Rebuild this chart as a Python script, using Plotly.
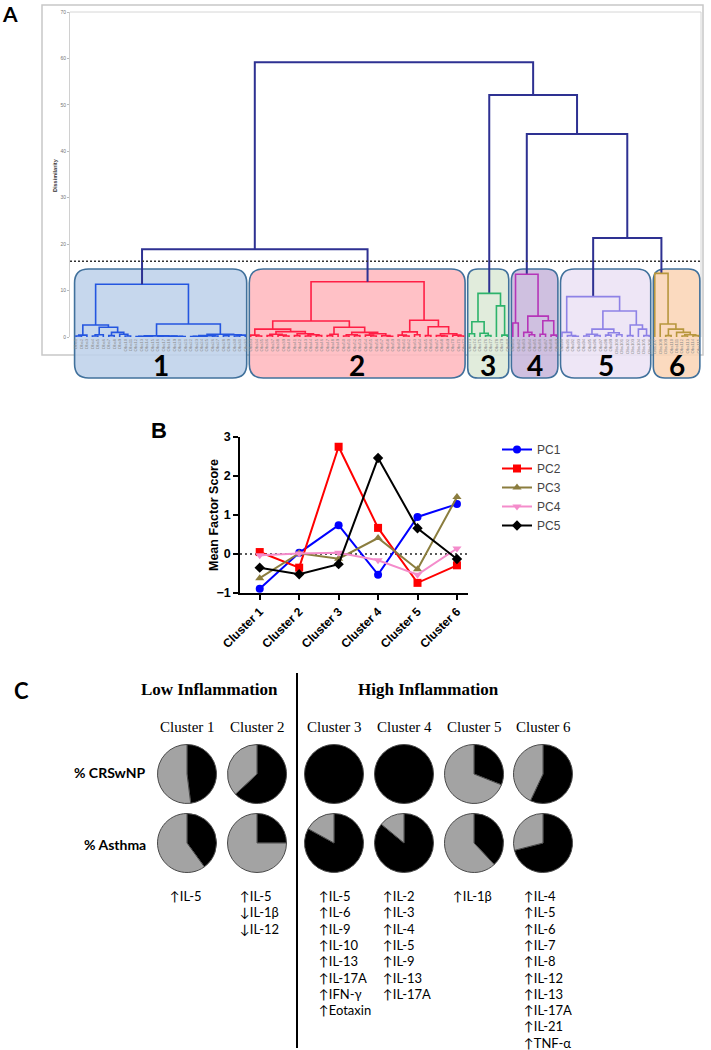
import plotly.graph_objects as go

W, H = 711, 1050

# ---------------- Panel A data: dendrogram ----------------
# internal node = [merge height (dissimilarity), left, right]; leaf = observation index
cluster_trees = {
    "1": [11.35,
          [2.6, [0.4, [0.2, 0, 1], 2],
                [2.1, [0.5, [0.2, 3, 4], 5], [1.0, [0.3, 6, 7], [0.6, 8, [0.2, 9, 10]]]]],
          [2.8, [0.25, [0.15, [0.1, 11, 12], [0.1, 13, 14]],
                       [0.2, [0.1, 15, 16], [0.15, [0.1, 17, 18], [0.1, 19, 20]]]],
                [0.6, [0.3, [0.15, [0.1, 21, 22], [0.1, 23, 24]], [0.2, 25, 26]],
                      [0.5, [0.3, 27, 28], [0.4, [0.2, 29, 30], 31]]]]],
    "2": [11.9,
          [3.45, [1.7, [0.4, 32, [0.2, 33, 34]],
                       [1.15, [0.6, [0.3, 35, 36], [0.4, 37, [0.2, 38, 39]]],
                              [0.7, [0.3, 40, 41], [0.5, [0.2, 42, 43], [0.3, 44, 45]]]]],
                 [2.1, [0.6, [0.3, 46, 47], 48],
                       [1.0, [0.5, [0.2, 49, 50], [0.3, 51, 52]],
                             [0.7, [0.4, 53, [0.2, 54, 55]], [0.3, 56, [0.15, 57, 58]]]]]],
          [3.6, [1.1, [0.4, 59, [0.2, 60, 61]], [0.5, 62, 63]],
                [2.2, [0.3, 64, 65], [0.7, [0.3, 66, [0.2, 67, 68]], [0.4, 69, [0.2, 70, 71]]]]]],
    "3": [9.4, [3.3, [0.7, 72, 73], [0.8, 74, [0.3, 75, 76]]], [6.7, 77, [0.4, 78, 79]]],
    "4": [13.5, [3.0, 80, 81], [4.5, [1.0, 82, [0.5, 83, 84]], [3.5, [0.6, 85, 86], [0.4, 87, 88]]]],
    "5": [8.7, [1.0, 89, [0.3, 90, [0.15, 91, 92]]],
          [5.6, [1.7, [0.6, [0.2, 93, 94], [0.3, 95, 96]], [0.9, [0.4, 97, 98], [0.5, 99, 100]]],
                [2.6, [0.3, 101, 102], [1.7, 103, [0.3, 104, 105]]]]],
    "6": [13.7, 106, [2.8, 107, [1.7, [0.3, 108, 109], [1.0, 110, [0.5, [0.2, 111, 112], [0.3, 113, 114]]]]]],
}
top_tree = [59.2, [18.9, "1", "2"], [52.1, "3", [43.7, "4", [21.3, "5", "6"]]]]
cut_height = 16.3
dissim_ticks = [0, 10, 20, 30, 40, 50, 60, 70]

NAVY = "#2e3192"
cluster_line_colors = {"1": "#2456e0", "2": "#ff1f45", "3": "#2db36b",
                       "4": "#b535b8", "5": "#8e82e6", "6": "#b8973e"}
cluster_fill_colors = {"1": "rgba(190,210,234,0.88)", "2": "rgba(255,184,190,0.88)",
                       "3": "rgba(221,233,215,0.88)", "4": "rgba(200,183,220,0.88)",
                       "5": "rgba(236,226,245,0.88)", "6": "rgba(251,213,182,0.88)"}

# ---------------- Panel B data ----------------
clusters_b = ["Cluster 1", "Cluster 2", "Cluster 3", "Cluster 4", "Cluster 5", "Cluster 6"]
pc1 = [-0.89, 0.03, 0.74, -0.53, 0.95, 1.28]
pc2 = [0.05, -0.35, 2.75, 0.67, -0.74, -0.29]
pc3 = [-0.62, 0.02, -0.12, 0.41, -0.39, 1.46]
pc4 = [-0.03, 0.01, 0.03, -0.16, -0.53, 0.14]
pc5 = [-0.35, -0.52, -0.26, 2.46, 0.66, -0.13]
pc_names = ["PC1", "PC2", "PC3", "PC4", "PC5"]
pc_colors = ["#0000ff", "#ff0000", "#8b7d3e", "#f48ccb", "#000000"]
pc_symbols = ["circle", "square", "triangle-up", "triangle-down", "diamond"]

# ---------------- Panel C data ----------------
c_clusters = ["Cluster 1", "Cluster 2", "Cluster 3", "Cluster 4", "Cluster 5", "Cluster 6"]
pct_crswnp = [48, 63, 100, 100, 31, 57]
pct_asthma = [40, 25, 83, 86, 38, 71]
cytokines = [
    ["↑IL-5"],
    ["↑IL-5", "↓IL-1β", "↓IL-12"],
    ["↑IL-5", "↑IL-6", "↑IL-9", "↑IL-10", "↑IL-13", "↑IL-17A", "↑IFN-γ", "↑Eotaxin"],
    ["↑IL-2", "↑IL-3", "↑IL-4", "↑IL-5", "↑IL-9", "↑IL-13", "↑IL-17A"],
    ["↑IL-1β"],
    ["↑IL-4", "↑IL-5", "↑IL-6", "↑IL-7", "↑IL-8", "↑IL-12", "↑IL-13", "↑IL-17A", "↑IL-21", "↑TNF-α"],
]

# ---------------- helpers ----------------
def px(x):
    return x / W

def py(y):
    return 1 - y / H

# ---------------- dendrogram layout ----------------
segs = {}
leaf_order = []
cluster_span = {}


def lay(node, color, cid=None):
    if isinstance(node, str):
        return lay(cluster_trees[node], cluster_line_colors[node], node)
    if isinstance(node, int):
        xpos = len(leaf_order)
        leaf_order.append(node)
        if cid is not None:
            lo, hi = cluster_span.get(cid, (xpos, xpos))
            cluster_span[cid] = (min(lo, xpos), max(hi, xpos))
        return xpos, 0.0
    h, l, r = node
    xl, hl = lay(l, color, cid)
    xr, hr = lay(r, color, cid)
    xs, ys = segs.setdefault(color, ([], []))
    xs += [xl, xl, xr, xr, None]
    ys += [hl, h, h, hr, None]
    return (xl + xr) / 2, h


lay(top_tree, NAVY)
n_leaves = len(leaf_order)

# pixel geometry of panel A plot area
A_L, A_R, A_T, A_B = 70, 701, 12, 337
xr0, xr1 = -1.1, 114.47


def leaf_px(x):
    return A_L + (x - xr0) / (xr1 - xr0) * (A_R - A_L)


fig = go.Figure()

for color, (xs, ys) in segs.items():
    fig.add_trace(go.Scatter(x=xs, y=ys, mode="lines",
                             line=dict(color=color, width=2.0 if color == NAVY else 1.6),
                             xaxis="x", yaxis="y", showlegend=False, hoverinfo="skip"))
fig.add_trace(go.Scatter(x=[xr0, xr1], y=[cut_height, cut_height], mode="lines",
                         line=dict(color="#333333", width=1.4, dash="2px,2px"),
                         xaxis="x", yaxis="y", showlegend=False, hoverinfo="skip"))

# ---------------- Panel B traces ----------------
xb = list(range(len(clusters_b)))
fig.add_trace(go.Scatter(x=[-0.5, 5.28], y=[0, 0], mode="lines",
                         line=dict(color="#222222", width=1.6, dash="2px,3px"),
                         xaxis="x2", yaxis="y2", showlegend=False, hoverinfo="skip"))
for name, vals, col, sym in zip(pc_names, [pc1, pc2, pc3, pc4, pc5], pc_colors, pc_symbols):
    fig.add_trace(go.Scatter(x=xb, y=vals, mode="lines+markers", name=name,
                             line=dict(color=col, width=2),
                             marker=dict(color=col, symbol=sym, size=8),
                             xaxis="x2", yaxis="y2"))

# ---------------- Panel C pies ----------------
col_cx = [187, 257, 334, 404, 474, 543]
row_cy = [774, 843]
R = 29.5
for rowi, vals in enumerate([pct_crswnp, pct_asthma]):
    for ci, v in enumerate(vals):
        cx, cy = col_cx[ci], row_cy[rowi]
        slices = [(v, "#000000"), (100 - v, "#a3a3a3")]
        slices = [s for s in slices if s[0] > 0]
        fig.add_trace(go.Pie(values=[s[0] for s in slices], sort=False, direction="clockwise", rotation=0,
                             marker=dict(colors=[s[1] for s in slices], line=dict(color="#4a4a4a", width=1)),
                             textinfo="none", hoverinfo="skip", showlegend=False,
                             domain=dict(x=[px(cx - R), px(cx + R)], y=[py(cy + R), py(cy - R)])))

# ---------------- shapes ----------------
shapes = []
shapes.append(dict(type="rect", xref="paper", yref="paper", x0=px(42), x1=px(703), y0=py(355), y1=py(5),
                   line=dict(color="#c8c8c8", width=1.5), layer="below"))
shapes.append(dict(type="line", xref="paper", yref="paper", x0=px(A_L), x1=px(A_R), y0=py(A_T), y1=py(A_T),
                   line=dict(color="#d6d6d6", width=1), layer="below"))
shapes.append(dict(type="line", xref="paper", yref="paper", x0=px(A_R), x1=px(A_R), y0=py(A_T), y1=py(A_B),
                   line=dict(color="#d6d6d6", width=1), layer="below"))


def rrect(x0, y0, x1, y1, r):
    rx, ry = r / W, r / H
    X0, X1 = x0 / W, x1 / W
    YB, YT = 1 - y1 / H, 1 - y0 / H
    return (f"M {X0+rx},{YT} L {X1-rx},{YT} Q {X1},{YT} {X1},{YT-ry} L {X1},{YB+ry} "
            f"Q {X1},{YB} {X1-rx},{YB} L {X0+rx},{YB} Q {X0},{YB} {X0},{YB+ry} "
            f"L {X0},{YT-ry} Q {X0},{YT} {X0+rx},{YT} Z")


annotations = []
for cid in ["1", "2", "3", "4", "5", "6"]:
    lo, hi = cluster_span[cid]
    bx0 = leaf_px(lo - 0.5) + 1.3
    bx1 = leaf_px(hi + 0.5) - 1.3
    r = min(14, (bx1 - bx0) / 4)
    shapes.append(dict(type="path", xref="paper", yref="paper", path=rrect(bx0, 269, bx1, 378, r),
                       fillcolor=cluster_fill_colors[cid], line=dict(color="#41719c", width=1.6),
                       layer="below"))
    annotations.append(dict(x=px((bx0 + bx1) / 2), y=py(365), xref="paper", yref="paper", text=cid,
                            showarrow=False, xanchor="center", yanchor="middle",
                            font=dict(family="Lato", size=28, color="black", weight="bold")))

shapes.append(dict(type="line", xref="paper", yref="paper", x0=px(297), x1=px(297), y0=py(1048), y1=py(673),
                   line=dict(color="black", width=2)))


def ann(x, y, text, size, family="Lato", weight="normal", color="black", xanchor="center",
        yanchor="middle", angle=0):
    annotations.append(dict(x=px(x), y=py(y), xref="paper", yref="paper", text=text, showarrow=False,
                            xanchor=xanchor, yanchor=yanchor, textangle=angle,
                            font=dict(family=family, size=size, color=color, weight=weight)))


ann(10, 13, "A", 21, weight="bold")
ann(159, 430, "B", 22, family="Liberation Sans", weight="bold")
ann(21, 690, "C", 22, weight="bold")

ann(55, 175, "Dissimilarity", 5.5, family="Liberation Sans", weight="bold", color="#333333", angle=-90)
ann(214, 515, "Mean Factor Score", 12.5, family="Liberation Sans", weight="bold", angle=-90)

ann(209, 689, "Low Inflammation", 17, family="Liberation Serif", weight="bold")
ann(428, 689, "High Inflammation", 17, family="Liberation Serif", weight="bold")
for ci, name in enumerate(c_clusters):
    ann(col_cx[ci], 727, name, 15, family="Liberation Serif")
ann(148, 772, "% CRSwNP", 14, weight="bold", xanchor="right")
ann(148, 844, "% Asthma", 14, weight="bold", xanchor="right")

text_x = [168, 238, 317, 381, 451, 522]
for ci, items in enumerate(cytokines):
    for li, t in enumerate(items):
        ann(text_x[ci], 896 + li * 16.3, t, 13, xanchor="left")

fig.update_layout(
    width=W, height=H, margin=dict(l=0, r=0, t=0, b=0, autoexpand=False),
    paper_bgcolor="white", plot_bgcolor="rgba(0,0,0,0)",
    shapes=shapes, annotations=annotations,
    xaxis=dict(domain=[px(A_L), px(A_R)], range=[xr0, xr1], anchor="y", automargin=False,
               tickvals=list(range(n_leaves)), ticktext=[f"Obs{v + 1}" for v in leaf_order],
               tickangle=-90, tickfont=dict(family="Liberation Sans", size=4.3, color="#8a8a8a"),
               showgrid=False, zeroline=False, showline=False, ticks=""),
    yaxis=dict(domain=[py(A_B), py(A_T)], range=[0, 70], anchor="x", automargin=False,
               tickvals=dissim_ticks, tickfont=dict(family="Liberation Sans", size=5, color="#777777"),
               showgrid=False, zeroline=False, showline=True, linecolor="#d0d0d0", linewidth=1,
               ticks="outside", ticklen=2, tickcolor="#bbbbbb"),
    xaxis2=dict(domain=[px(240), px(468)], range=[-0.5, 5.28], anchor="y2", automargin=False,
                tickvals=xb, ticktext=clusters_b, tickangle=-45,
                tickfont=dict(family="Liberation Sans", size=12, color="black", weight="bold"),
                showgrid=False, zeroline=False, showline=True, linecolor="black", linewidth=1.6,
                ticks="outside", ticklen=5, tickwidth=1.5, tickcolor="black"),
    yaxis2=dict(domain=[py(593), py(437)], range=[-1, 3], anchor="x2", automargin=False,
                tickvals=[-1, 0, 1, 2, 3],
                tickfont=dict(family="Liberation Sans", size=12.5, color="black", weight="bold"),
                showgrid=False, zeroline=False, showline=True, linecolor="black", linewidth=1.6,
                ticks="outside", ticklen=5, tickwidth=1.5, tickcolor="black"),
    legend=dict(x=px(497), y=py(435), xanchor="left", yanchor="top", bgcolor="rgba(0,0,0,0)",
                font=dict(family="Liberation Sans", size=12, color="#444444"), itemwidth=30,
                tracegroupgap=0),
)

fig.write_html("out.html", config={"displayModeBar": False},
               post_script="document.body.style.margin='0';document.body.style.overflow='hidden';")
